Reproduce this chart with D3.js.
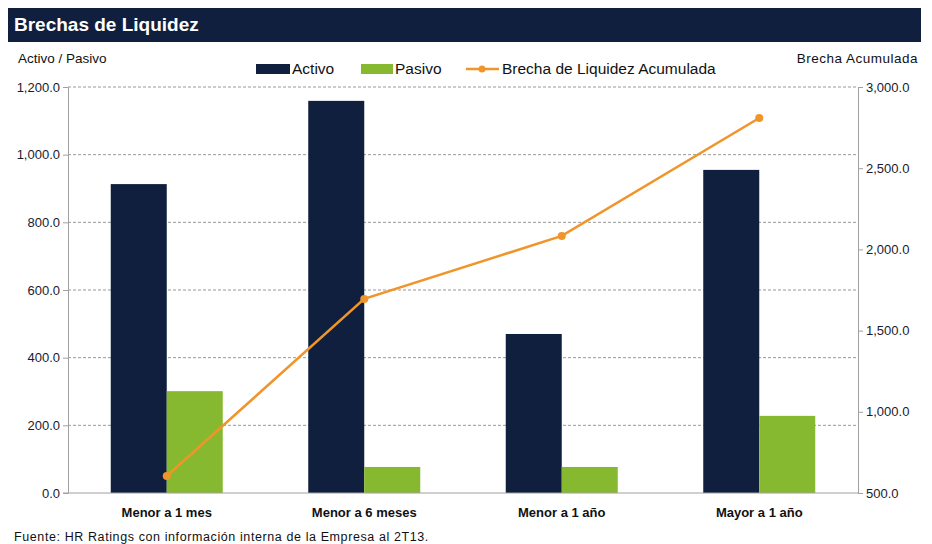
<!DOCTYPE html>
<html>
<head>
<meta charset="utf-8">
<script src="https://cdn.jsdelivr.net/npm/d3@7"></script>
<style>
  body { margin: 0; background: #fff; }
  svg { display: block; }
  .narrow { font-family: "Liberation Sans Narrow", "Arial Narrow", "Liberation Sans", Arial, sans-serif; }
</style>
</head>
<body>
<script>
// data
var categories = ["Menor a 1 mes", "Menor a 6 meses", "Menor a 1 año", "Mayor a 1 año"];
var activo = [913, 1159, 470, 955];
var pasivo = [301, 77, 77, 228];
var brecha = [605, 1695, 2083, 2809];
var leftTicks = [0, 200, 400, 600, 800, 1000, 1200];
var rightTicks = [500, 1000, 1500, 2000, 2500, 3000];

var navy = "#0f1f3d", green = "#86b92f", orange = "#f0952a", axisGray = "#a0a0a0";

var W = 932, H = 544;
var plot = {left: 68, right: 858, top: 87, bottom: 493};

var svg = d3.select("body").append("svg")
  .attr("width", W)
  .attr("height", H);

// title bar
svg.append("rect")
  .attr("x", 8).attr("y", 8)
  .attr("width", 913).attr("height", 34)
  .attr("fill", navy);
svg.append("text")
  .attr("x", 14).attr("y", 31)
  .attr("fill", "#fff")
  .attr("font-family", "Liberation Sans, Arial, sans-serif")
  .attr("font-weight", "bold")
  .attr("font-size", 19)
  .text("Brechas de Liquidez");

// scales
var x = d3.scaleBand().domain(categories).range([plot.left, plot.right]);
var yL = d3.scaleLinear().domain([0, 1200]).range([plot.bottom, plot.top]);
var yR = d3.scaleLinear().domain([500, 3000]).range([plot.bottom, plot.top]);
var barW = 56;

// gridlines
svg.append("g").selectAll("line")
  .data(leftTicks.filter(function(d) { return d > 0; }))
  .join("line")
  .attr("x1", plot.left).attr("x2", plot.right)
  .attr("y1", function(d) { return yL(d); })
  .attr("y2", function(d) { return yL(d); })
  .attr("stroke", "#999")
  .attr("stroke-dasharray", "3,2");

// bars
svg.append("g").selectAll("rect")
  .data(activo)
  .join("rect")
  .attr("x", function(d, i) { return x(categories[i]) + x.bandwidth() / 2 - barW; })
  .attr("y", function(d) { return yL(d); })
  .attr("width", barW)
  .attr("height", function(d) { return yL(0) - yL(d); })
  .attr("fill", navy);

svg.append("g").selectAll("rect")
  .data(pasivo)
  .join("rect")
  .attr("x", function(d, i) { return x(categories[i]) + x.bandwidth() / 2; })
  .attr("y", function(d) { return yL(d); })
  .attr("width", barW)
  .attr("height", function(d) { return yL(0) - yL(d); })
  .attr("fill", green);

// axes
var leftAxis = d3.axisLeft(yL).tickValues(leftTicks).tickSize(5).tickSizeOuter(0)
  .tickFormat(d3.format(",.1f"));
var rightAxis = d3.axisRight(yR).tickValues(rightTicks).tickSize(5).tickSizeOuter(0)
  .tickFormat(d3.format(",.1f"));

function styleAxis(g) {
  g.select(".domain").attr("stroke", axisGray);
  g.selectAll(".tick line").attr("stroke", axisGray);
  g.selectAll(".tick text")
    .attr("class", "narrow")
    .attr("font-size", 13)
    .attr("fill", "#1a1a2e");
}

svg.append("g")
  .attr("transform", "translate(" + plot.left + ",0)")
  .call(leftAxis)
  .call(styleAxis);

svg.append("g")
  .attr("transform", "translate(" + plot.right + ",0)")
  .call(rightAxis)
  .call(styleAxis);

// bottom axis line
svg.append("line")
  .attr("x1", plot.left - 5).attr("x2", plot.right)
  .attr("y1", plot.bottom).attr("y2", plot.bottom)
  .attr("stroke", axisGray);

svg.append("g").selectAll("text")
  .data(categories)
  .join("text")
  .attr("class", "narrow")
  .attr("x", function(d) { return x(d) + x.bandwidth() / 2; })
  .attr("y", 517)
  .attr("text-anchor", "middle")
  .attr("font-size", 13)
  .attr("font-weight", "bold")
  .attr("fill", "#111")
  .text(function(d) { return d; });

// accumulated gap line
var line = d3.line()
  .x(function(d, i) { return x(categories[i]) + x.bandwidth() / 2; })
  .y(function(d) { return yR(d); });

svg.append("path")
  .datum(brecha)
  .attr("d", line)
  .attr("fill", "none")
  .attr("stroke", orange)
  .attr("stroke-width", 2.5);

svg.append("g").selectAll("circle")
  .data(brecha)
  .join("circle")
  .attr("cx", function(d, i) { return x(categories[i]) + x.bandwidth() / 2; })
  .attr("cy", function(d) { return yR(d); })
  .attr("r", 4)
  .attr("fill", orange);

// axis titles
svg.append("text")
  .attr("class", "narrow")
  .attr("x", 18).attr("y", 63)
  .attr("font-size", 13.5)
  .attr("fill", "#111")
  .text("Activo / Pasivo");
svg.append("text")
  .attr("class", "narrow")
  .attr("x", 918).attr("y", 63)
  .attr("text-anchor", "end")
  .attr("font-size", 13.5)
  .attr("letter-spacing", 0.5)
  .attr("fill", "#111")
  .text("Brecha Acumulada");

// legend
var leg = svg.append("g").attr("class", "narrow").attr("font-size", 15.5).attr("fill", "#111");
leg.append("rect").attr("x", 256).attr("y", 64).attr("width", 34).attr("height", 10).attr("fill", navy);
leg.append("text").attr("x", 292).attr("y", 74).text("Activo");
leg.append("rect").attr("x", 361).attr("y", 64).attr("width", 32).attr("height", 10).attr("fill", green);
leg.append("text").attr("x", 395).attr("y", 74).text("Pasivo");
leg.append("line").attr("x1", 466).attr("x2", 499).attr("y1", 69).attr("y2", 69)
  .attr("stroke", orange).attr("stroke-width", 2.5);
leg.append("circle").attr("cx", 482).attr("cy", 69).attr("r", 3.5).attr("fill", orange);
leg.append("text").attr("x", 502).attr("y", 74).text("Brecha de Liquidez Acumulada");

// source
svg.append("text")
  .attr("x", 14).attr("y", 541)
  .attr("font-family", "Liberation Sans, Arial, sans-serif")
  .attr("font-size", 12.5)
  .attr("letter-spacing", 0.6)
  .attr("fill", "#111")
  .text("Fuente: HR Ratings con información interna de la Empresa al 2T13.");
</script>
</body>
</html>
